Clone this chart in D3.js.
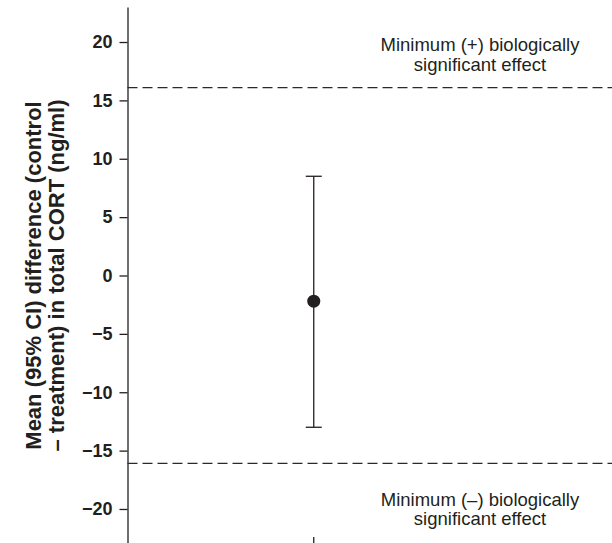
<!DOCTYPE html>
<html>
<head>
<meta charset="utf-8">
<script src="https://cdn.jsdelivr.net/npm/d3@7"></script>
<style>
  html, body { margin: 0; padding: 0; background: #fff; }
  svg { display: block; }
  text { font-family: "Liberation Sans", Arial, Helvetica, sans-serif; fill: #231f20; }
</style>
</head>
<body>
<svg id="chart" width="612" height="543"></svg>
<script>
// ---- data ----
const groups = ["Treatment effect"];
const meanDiff = [-2.2];
const ciLower = [-13.0];
const ciUpper = [8.5];
const thresholds = [16.1, -16.1];
const thresholdLabels = [
  ["Minimum (+) biologically", "significant effect"],
  ["Minimum (\u2013) biologically", "significant effect"]
];
const yTicks = [20, 15, 10, 5, 0, -5, -10, -15, -20];
const yTitle = ["Mean (95% CI) difference (control", "\u2013 treatment) in total CORT (ng/ml)"];

// ---- layout ----
const W = 612, H = 543;
const m = { left: 127.5, right: 0, top: 7, bottom: -1 };
const svg = d3.select("#chart");
const ink = "#231f20";

const y = d3.scaleLinear().domain([-23, 23]).range([H - m.bottom, m.top]);
const x = d3.scalePoint().domain(groups).range([m.left, 500]).padding(0.5);

// y axis
const yAxis = d3.axisLeft(y).tickValues(yTicks)
  .tickFormat(d => d < 0 ? "\u2212" + Math.abs(d) : String(d))
  .tickSize(8).tickPadding(7).tickSizeOuter(0);
const gy = svg.append("g").attr("transform", `translate(${m.left},0)`).call(yAxis);
gy.select(".domain").attr("stroke", ink).attr("stroke-width", 1.3);
gy.selectAll(".tick line").attr("stroke", ink).attr("stroke-width", 1.3);
gy.selectAll(".tick text")
  .style("font-family", '"Liberation Sans", Arial, sans-serif')
  .style("font-size", "18px").style("font-weight", "bold").attr("fill", ink);

// x tick (bottom)
svg.append("g").selectAll("line").data(groups).join("line")
  .attr("x1", d => x(d)).attr("x2", d => x(d))
  .attr("y1", H - 6).attr("y2", H)
  .attr("stroke", ink).attr("stroke-width", 1.3);

// threshold dashed lines
svg.append("g").selectAll("line").data(thresholds).join("line")
  .attr("x1", m.left).attr("x2", W)
  .attr("y1", d => y(d)).attr("y2", d => y(d))
  .attr("stroke", "#2a2a2a").attr("stroke-width", 1.3)
  .attr("stroke-dasharray", "10,5");

// threshold labels
const labelY = [[51, 71], [506, 525]];
thresholdLabels.forEach((lines, i) => {
  const t = svg.append("text").attr("text-anchor", "middle")
    .style("font-size", "18.5px");
  lines.forEach((s, j) => {
    t.append("tspan").attr("x", 480).attr("y", labelY[i][j]).text(s);
  });
});

// error bars
const eb = svg.append("g");
const capW = 8;
groups.forEach((g, i) => {
  const cx = x(g);
  eb.append("line").attr("x1", cx).attr("x2", cx)
    .attr("y1", y(ciUpper[i])).attr("y2", y(ciLower[i]))
    .attr("stroke", ink).attr("stroke-width", 1.3);
  [ciUpper[i], ciLower[i]].forEach(v => {
    eb.append("line").attr("x1", cx - capW).attr("x2", cx + capW)
      .attr("y1", y(v)).attr("y2", y(v))
      .attr("stroke", ink).attr("stroke-width", 1.3);
  });
  eb.append("circle").attr("cx", cx).attr("cy", y(meanDiff[i]))
    .attr("r", 6.5).attr("fill", ink);
});

// y title
const title = svg.append("text")
  .attr("transform", `translate(0,${y(0)}) rotate(-90)`)
  .attr("text-anchor", "middle")
  .style("font-size", "22px").style("font-weight", "bold");
title.append("tspan").attr("x", 0).attr("y", 41).text(yTitle[0]);
title.append("tspan").attr("x", 0).attr("y", 64).text(yTitle[1]);
</script>
</body>
</html>
